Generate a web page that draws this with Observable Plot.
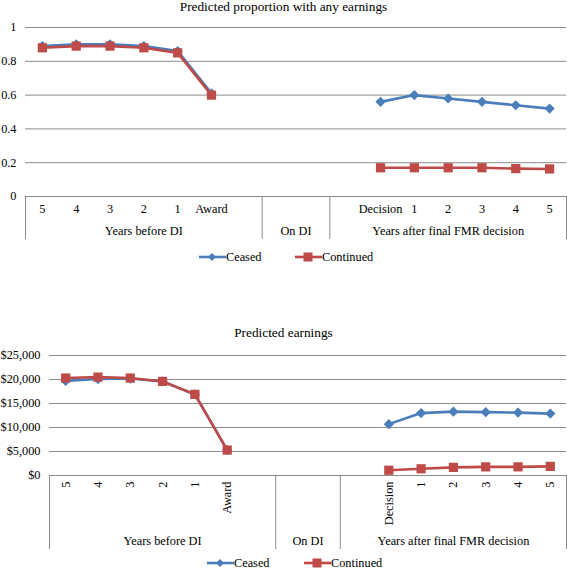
<!DOCTYPE html>
<html>
<head>
<meta charset="utf-8">
<script src="https://cdn.jsdelivr.net/npm/d3@7"></script>
<script src="https://cdn.jsdelivr.net/npm/@observablehq/plot@0.6"></script>
<style>
  html, body { margin: 0; padding: 0; background: #fff; }
  #wrap { position: relative; width: 567px; height: 570px; font-family: "Liberation Serif", "Times New Roman", serif; color: #000; }
  .title { position: absolute; left: 0; width: 567px; text-align: center; font-size: 13.3px; line-height: 14px; }
  .legend { position: absolute; left: 0; width: 567px; height: 10px; font-size: 12.3px; }
  .item { position: absolute; top: 0; height: 10px; line-height: 10px; }
  .item svg { position: absolute; left: 0; top: -2px; }
  .item span { position: absolute; top: 0; white-space: nowrap; }
  .chart { position: absolute; left: 0; }
  .chart text { font-family: "Liberation Serif", "Times New Roman", serif; }
</style>
</head>
<body>
<div id="wrap"></div>
<script>
// ---- data ----
const categories = ["5","4","3","2","1","Award","","","","","Decision","1","2","3","4","5"];
const groupLabels = ["Years before DI", "On DI", "Years after final FMR decision"];
const groupSpans = [7, 2, 7];

const shareCeased    = [0.89, 0.90, 0.90, 0.89, 0.86, 0.61, null, null, null, null, 0.56, 0.60, 0.58, 0.56, 0.54, 0.52];
const shareContinued = [0.88, 0.89, 0.89, 0.88, 0.85, 0.60, null, null, null, null, 0.17, 0.17, 0.17, 0.17, 0.165, 0.163];

const earnCeased    = [19700, 20100, 20200, 19600, 16900, 5300, null, null, null, null, 10700, 13000, 13300, 13200, 13100, 12900];
const earnContinued = [20300, 20500, 20300, 19600, 16900, 5300, null, null, null, null, 1100, 1400, 1700, 1800, 1800, 1900];

const shareTicks = [0, 0.2, 0.4, 0.6, 0.8, 1];
const earnTicks = [0, 5000, 10000, 15000, 20000, 25000];

const seriesNames = ["Ceased", "Continued"];
const seriesColors = ["#4A7EBB", "#BE4B48"];

// ---- helpers ----
const FONT = "'Liberation Serif', 'Times New Roman', serif";
const FS = 12.3;
const idx = categories.map((_, i) => i);
const boundaries = [0];
groupSpans.forEach(s => boundaries.push(boundaries[boundaries.length - 1] + s));
const groups = groupLabels.map((g, i) => ({label: g, mid: (boundaries[i] + boundaries[i + 1]) / 2}));

function seriesData(values) {
  return values.map((v, i) => ({x: i + 0.5, y: v}));
}

function makeChart({width, height, marginLeft, marginTop, marginBottom, yDomain, yTicks, yFormat, ceased, continued, rotate, tickDy, groupDy}) {
  const c = seriesData(ceased), r = seriesData(continued);
  const plotH = height - marginTop - marginBottom;
  return Plot.plot({
    width, height, marginLeft, marginRight: 1, marginTop, marginBottom,
    style: {fontFamily: FONT, fontSize: FS + "px", color: "#000", background: "transparent", overflow: "visible"},
    x: {domain: [0, categories.length]},
    y: {domain: yDomain},
    marks: [
      Plot.ruleY(yTicks.filter(t => t !== 0), {stroke: "#8c8c8c", strokeWidth: 1}),
      Plot.axisY({ticks: yTicks, tickFormat: yFormat, tickSize: 0, tickPadding: 9, fontSize: FS, label: null}),
      Plot.axisX({ticks: idx.map(i => i + 0.5), tickFormat: (d) => categories[Math.round(d - 0.5)], tickSize: 0,
                  tickPadding: tickDy, tickRotate: rotate, fontSize: FS, label: null}),
      // category box
      Plot.ruleY([yDomain[0]], {stroke: "#8c8c8c", strokeWidth: 1}),
      Plot.ruleX(boundaries, {stroke: "#8c8c8c", strokeWidth: 1, insetTop: plotH, insetBottom: -marginBottom + 6}),
      Plot.text(groups, {x: "mid", text: "label", frameAnchor: "bottom", dy: groupDy, fontSize: FS, lineAnchor: "middle"}),
      // series
      Plot.line(c, {x: "x", y: "y", stroke: seriesColors[0], strokeWidth: 2.6}),
      Plot.line(r, {x: "x", y: "y", stroke: seriesColors[1], strokeWidth: 2.6}),
      Plot.dot(c.filter(d => d.y != null), {x: "x", y: "y", symbol: "diamond2", r: 4.6, fill: seriesColors[0], stroke: null}),
      Plot.dot(r.filter(d => d.y != null), {x: "x", y: "y", symbol: "square", r: 5.2, fill: seriesColors[1], stroke: null})
    ]
  });
}

function legend(top, x1, x2) {
  const lg = document.createElement("div");
  lg.className = "legend";
  lg.style.top = top + "px";
  const xs = [x1, x2];
  seriesNames.forEach((name, i) => {
    const it = document.createElement("div");
    it.className = "item";
    it.style.left = xs[i] + "px";
    const sym = i === 0
      ? `<path d="M13 3 L17 7 L13 11 L9 7 Z" fill="${seriesColors[i]}"/>`
      : `<rect x="8.5" y="2.5" width="9" height="9" fill="${seriesColors[i]}"/>`;
    it.innerHTML = `<svg width="27" height="14"><line x1="0" y1="7" x2="27" y2="7" stroke="${seriesColors[i]}" stroke-width="2.6"/>${sym}</svg><span style="left:27px">${name}</span>`;
    lg.appendChild(it);
  });
  return lg;
}

const wrap = document.getElementById("wrap");

// ---- top chart ----
const t1 = document.createElement("div");
t1.className = "title"; t1.style.top = "0px"; t1.textContent = "Predicted proportion with any earnings";
wrap.appendChild(t1);

const c1 = makeChart({
  width: 567, height: 245, marginLeft: 25, marginTop: 27, marginBottom: 49,
  yDomain: [0, 1], yTicks: shareTicks, yFormat: d => d === 0 ? "0" : d === 1 ? "1" : d3.format(".1f")(d),
  ceased: shareCeased, continued: shareContinued, rotate: 0, tickDy: 8, groupDy: 35
});
c1.classList.add("chart"); c1.style.top = "0px";
wrap.appendChild(c1);
wrap.appendChild(legend(252, 199, 295));

// ---- bottom chart ----
const t2 = document.createElement("div");
t2.className = "title"; t2.style.top = "326px"; t2.textContent = "Predicted earnings";
wrap.appendChild(t2);

const c2 = makeChart({
  width: 567, height: 235, marginLeft: 49, marginTop: 35, marginBottom: 80,
  yDomain: [0, 25000], yTicks: earnTicks, yFormat: d => "$" + d3.format(",")(d),
  ceased: earnCeased, continued: earnContinued, rotate: -90, tickDy: 6, groupDy: 66
});
c2.classList.add("chart"); c2.style.top = "320px";
wrap.appendChild(c2);
wrap.appendChild(legend(558, 207, 304));
</script>
</body>
</html>
